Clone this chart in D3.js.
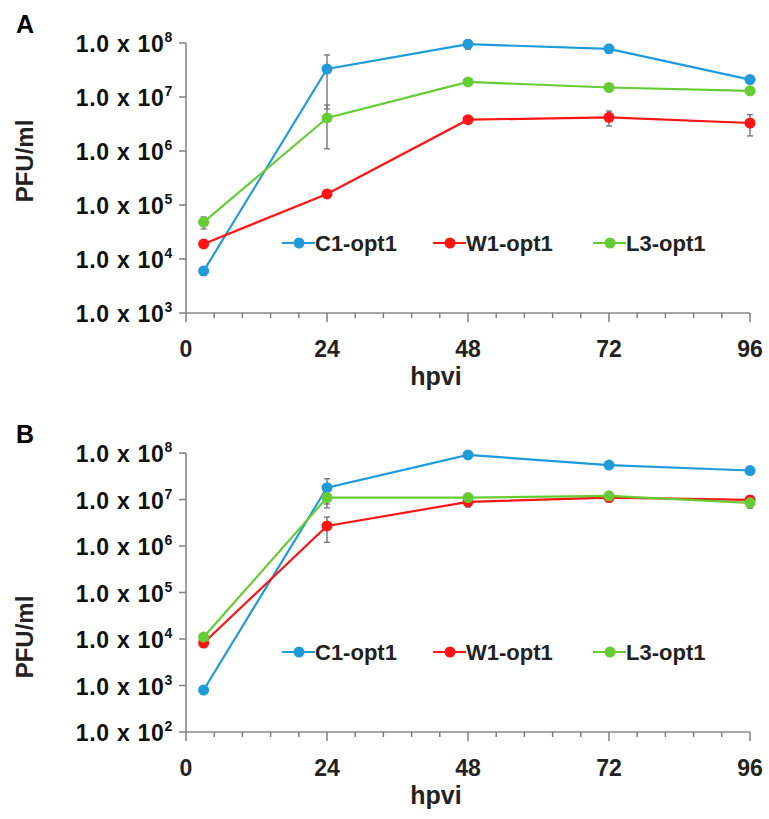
<!DOCTYPE html>
<html>
<head>
<meta charset="utf-8">
<script src="https://cdn.jsdelivr.net/npm/d3@7"></script>
<style>
  body { margin: 0; background: #fff; }
  svg { font-family: 'Liberation Sans', Arial, sans-serif; font-weight: bold; }
</style>
</head>
<body>
<svg id="chart" width="769" height="819"></svg>
<script>
// hours post virus infection
const hours = [3, 24, 48, 72, 96]
const seriesNames = ['C1-opt1', 'W1-opt1', 'L3-opt1']
const seriesColors = ['#1f9bd9', '#ff1414', '#66cc33']

// panel A, PFU/ml (mean and SD)
const aC1 = [6.0e3, 3.3e7, 9.5e7, 7.8e7, 2.1e7]
const aC1Sd = [1.0e3, 2.7e7, 1.8e7, 5.0e6, 2.0e6]
const aW1 = [1.9e4, 1.6e5, 3.8e6, 4.2e6, 3.3e6]
const aW1Sd = [2.0e3, 2.0e4, 4.0e5, 1.3e6, 1.4e6]
const aL3 = [4.8e4, 4.1e6, 1.9e7, 1.5e7, 1.3e7]
const aL3Sd = [1.2e4, 3.0e6, 2.0e6, 2.0e6, 1.0e6]

// panel B, PFU/ml (mean and SD)
const bC1 = [8.0e2, 1.8e7, 9.1e7, 5.5e7, 4.2e7]
const bC1Sd = [1.0e2, 1.0e7, 5.0e6, 6.0e6, 6.0e6]
const bW1 = [8.2e3, 2.7e6, 8.9e6, 1.1e7, 9.8e6]
const bW1Sd = [1.0e3, 1.5e6, 2.0e6, 2.0e6, 2.0e6]
const bL3 = [1.1e4, 1.1e7, 1.1e7, 1.2e7, 8.5e6]
const bL3Sd = [1.5e3, 4.4e6, 1.0e6, 2.0e6, 2.0e6]

const xTicks = [0, 24, 48, 72, 96]

const svg = d3.select('#chart')

function drawPanel(cfg) {
  const { letter, top, bottom, minExp, legendY, labelY, values, sds } = cfg
  const g = svg.append('g')

  const x = d3.scaleLinear().domain([0, 96]).range([186, 750])
  const y = d3.scaleLog().domain([Math.pow(10, minExp), 1e8]).range([bottom, top])

  // panel letter
  g.append('text')
    .attr('x', 16).attr('y', top - 10)
    .attr('font-size', 25)
    .text(letter)

  // y axis title
  g.append('text')
    .attr('transform', 'translate(33,' + labelY + ') rotate(-90)')
    .attr('text-anchor', 'middle')
    .attr('font-size', 24)
    .attr('fill', '#222')
    .text('PFU/ml')

  // y axis
  const exps = d3.range(minExp, 9)
  g.append('line')
    .attr('x1', x(0)).attr('x2', x(0))
    .attr('y1', y(1e8)).attr('y2', bottom)
    .attr('stroke', '#888').attr('stroke-width', 1.6)
  const yt = g.selectAll('.ytick').data(exps).enter().append('g')
    .attr('transform', d => 'translate(0,' + y(Math.pow(10, d)) + ')')
  yt.append('line')
    .attr('x1', x(0) - 7).attr('x2', x(0))
    .attr('stroke', '#888').attr('stroke-width', 1.6)
  const yl = yt.append('text')
    .attr('x', 173).attr('y', 9)
    .attr('text-anchor', 'end')
    .attr('font-size', 23)
    .attr('letter-spacing', 0.7)
    .attr('fill', '#111')
  yl.append('tspan').text('1.0 x 10')
  yl.append('tspan').attr('font-size', 14).attr('dy', -10).text(d => d)

  // x axis
  g.append('line')
    .attr('x1', x(0)).attr('x2', x(96))
    .attr('y1', bottom).attr('y2', bottom)
    .attr('stroke', '#888').attr('stroke-width', 1.6)
  g.selectAll('.xminor').data(d3.range(0, 96.01, 4.8)).enter().append('line')
    .attr('x1', d => x(d)).attr('x2', d => x(d))
    .attr('y1', bottom).attr('y2', d => bottom + (d % 24 < 0.01 ? 9 : 5))
    .attr('stroke', '#777').attr('stroke-width', 1.4)
  g.selectAll('.xlab').data(xTicks).enter().append('text')
    .attr('x', d => x(d)).attr('y', bottom + 44)
    .attr('text-anchor', 'middle')
    .attr('font-size', 23)
    .attr('fill', '#222')
    .text(d => d)
  g.append('text')
    .attr('x', 436).attr('y', bottom + 72)
    .attr('text-anchor', 'middle')
    .attr('font-size', 25)
    .attr('fill', '#222')
    .text('hpvi')

  // error bars
  values.forEach((vals, s) => {
    const eb = g.selectAll('.eb' + s).data(hours.map((h, i) => ({ h, v: vals[i], sd: sds[s][i] })))
      .enter().append('g').attr('stroke', '#777').attr('stroke-width', 1.4)
    const lo = d => y(Math.max(d.v - d.sd, d.v * 0.05))
    eb.append('line')
      .attr('x1', d => x(d.h)).attr('x2', d => x(d.h))
      .attr('y1', d => y(d.v + d.sd)).attr('y2', lo)
    eb.append('line')
      .attr('x1', d => x(d.h) - 3).attr('x2', d => x(d.h) + 3)
      .attr('y1', d => y(d.v + d.sd)).attr('y2', d => y(d.v + d.sd))
    eb.append('line')
      .attr('x1', d => x(d.h) - 3).attr('x2', d => x(d.h) + 3)
      .attr('y1', lo).attr('y2', lo)
  })

  // lines and markers
  const line = d3.line().x((d, i) => x(hours[i])).y(d => y(d))
  values.forEach((vals, s) => {
    g.append('path')
      .datum(vals)
      .attr('d', line)
      .attr('fill', 'none')
      .attr('stroke', seriesColors[s])
      .attr('stroke-width', 2.2)
    g.selectAll('.pt' + s).data(vals).enter().append('circle')
      .attr('cx', (d, i) => x(hours[i]))
      .attr('cy', d => y(d))
      .attr('r', 5.5)
      .attr('fill', seriesColors[s])
  })

  // legend
  const legendX = [282, 433, 593]
  const lg = g.selectAll('.leg').data(seriesNames).enter().append('g')
    .attr('transform', (d, i) => 'translate(' + legendX[i] + ',' + legendY + ')')
  lg.append('line')
    .attr('x1', 0).attr('x2', 33)
    .attr('stroke', (d, i) => seriesColors[i]).attr('stroke-width', 2.2)
  lg.append('circle')
    .attr('cx', 17).attr('r', 5.5)
    .attr('fill', (d, i) => seriesColors[i])
  lg.append('text')
    .attr('x', 33).attr('y', 8)
    .attr('font-size', 22)
    .attr('fill', '#222')
    .text(d => d)
}

drawPanel({
  letter: 'A', top: 43, bottom: 313, minExp: 3, legendY: 243, labelY: 161,
  values: [aC1, aW1, aL3], sds: [aC1Sd, aW1Sd, aL3Sd]
})
drawPanel({
  letter: 'B', top: 453, bottom: 732, minExp: 2, legendY: 652, labelY: 637,
  values: [bC1, bW1, bL3], sds: [bC1Sd, bW1Sd, bL3Sd]
})
</script>
</body>
</html>
